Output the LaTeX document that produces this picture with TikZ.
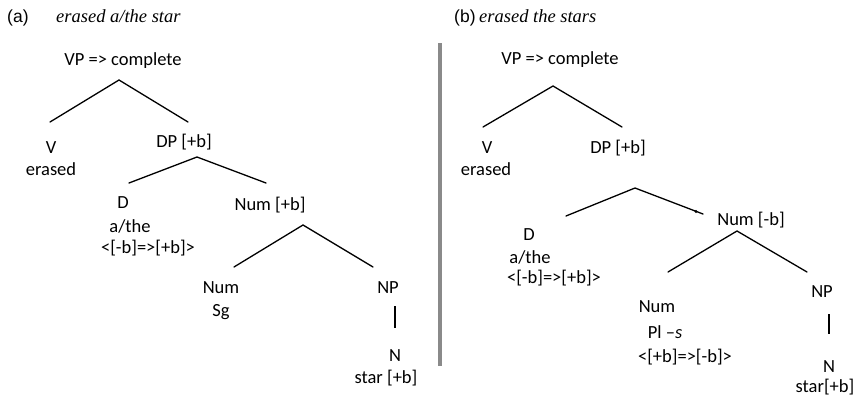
\documentclass[tikz,border=0pt]{standalone}
\usepackage{fontspec}
\setmainfont{Carlito}
\newfontfamily\tagfont{Liberation Sans}
\newfontfamily\glossfont{Liberation Serif}
\begin{document}
\begin{tikzpicture}[x=1pt,y=-1pt,
  lbl/.style={inner sep=0pt, anchor=base, font=\fontsize{18.5}{22}\selectfont},
  tag/.style={inner sep=0pt, anchor=base west, font=\tagfont\fontsize{17.5}{20}\selectfont},
  gloss/.style={inner sep=0pt, anchor=base west, font=\glossfont\itshape\fontsize{18.5}{22}\selectfont},
  branch/.style={line width=1.3pt, line cap=round},
  divider/.style={line width=4.5pt, draw={rgb,255:red,138;green,138;blue,138}}]
\useasboundingbox (0,0) rectangle (860,402);

% ---------- (a) erased a/the star ----------
\node[tag] (tagA) at (7,22) {(a)};
\node[gloss] (glossA) at (56,22) {erased a/the star};

\node[lbl] (vpA) at (123,65) {VP => complete};
\coordinate (vpAtop) at (119,80);
\coordinate (vpAl) at (50,122);
\coordinate (vpAr) at (188,122);
\draw[branch] (vpAl) -- (vpAtop) -- (vpAr);

\node[lbl] (vA) at (51,153) {V};
\node[lbl] (erasedA) at (51,175) {erased};

\node[lbl] (dpA) at (184,147) {DP [+b]};
\coordinate (dpAtop) at (197,157);
\coordinate (dpAl) at (129,183);
\coordinate (dpAr) at (266,183);
\draw[branch] (dpAl) -- (dpAtop) -- (dpAr);

\node[lbl] (dA) at (123,208) {D};
\node[lbl] (detA) at (130,232) {a/the};
\node[lbl] (featA) at (148,253) {<[-b]=>[+b]>};

\node[lbl] (numpA) at (270,210) {Num [+b]};
\coordinate (numAtop) at (303,225);
\coordinate (numAl) at (234,267);
\coordinate (numAr) at (373,267);
\draw[branch] (numAl) -- (numAtop) -- (numAr);

\node[lbl] (numA) at (221,293) {Num};
\node[lbl] (sgA) at (221,316) {Sg};

\node[lbl] (npA) at (388,293) {NP};
\coordinate (npAtop) at (395,306);
\coordinate (npAbot) at (395,328);
\draw[branch, line cap=butt] (npAtop) -- (npAbot);

\node[lbl] (nA) at (395,361) {N};
\node[lbl] (starA) at (386,383) {star [+b]};

% ---------- divider ----------
\coordinate (divTop) at (440,43);
\coordinate (divBot) at (440,366);
\draw[divider] (divTop) -- (divBot);

% ---------- (b) erased the stars ----------
\node[tag] (tagB) at (454,22) {(b)};
\node[gloss] (glossB) at (479,22) {erased the stars};

\node[lbl] (vpB) at (560,64) {VP => complete};
\coordinate (vpBtop) at (553,86);
\coordinate (vpBl) at (483,127);
\coordinate (vpBr) at (622,127);
\draw[branch] (vpBl) -- (vpBtop) -- (vpBr);

\node[lbl] (vB) at (487,153) {V};
\node[lbl] (erasedB) at (486,175) {erased};
\node[lbl] (dpB) at (618,153) {DP [+b]};

\coordinate (dpBtop) at (635,188);
\coordinate (dpBl) at (566,216);
\coordinate (dpBr) at (703,214);
\draw[branch] (dpBl) -- (dpBtop) -- (dpBr);
\fill (696,211.5) circle (1.6pt);

\node[lbl] (dB) at (529,240) {D};
\node[lbl] (detB) at (530,263) {a/the};
\node[lbl] (featB) at (554,283) {<[-b]=>[+b]>};

\node[lbl] (numpB) at (751,225) {Num [-b]};
\coordinate (numBtop) at (737,231);
\coordinate (numBl) at (668,272);
\coordinate (numBr) at (807,272);
\draw[branch] (numBl) -- (numBtop) -- (numBr);

\node[lbl] (numB) at (657,312) {Num};
\node[lbl] (plB) at (665,338) {Pl –\textit{s}};
\node[lbl] (featNumB) at (685,362) {<[+b]=>[-b]>};

\node[lbl] (npB) at (822,297) {NP};
\coordinate (npBtop) at (829,314);
\coordinate (npBbot) at (829,334);
\draw[branch, line cap=butt] (npBtop) -- (npBbot);

\node[lbl] (nB) at (829,372) {N};
\node[lbl] (starB) at (825,392) {star[+b]};
\end{tikzpicture}
\end{document}
